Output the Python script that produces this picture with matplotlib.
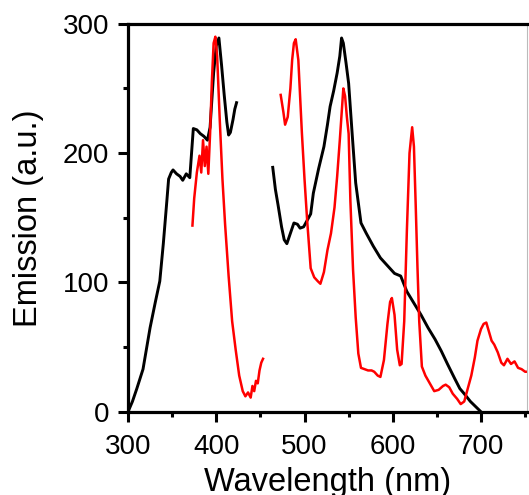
import numpy as np
import matplotlib.pyplot as plt
from matplotlib.ticker import MultipleLocator

plt.rcParams['font.family'] = ['Liberation Sans', 'DejaVu Sans']

# excitation spectrum (black, UV part)
exc1_x = [300, 305, 310, 317, 325, 331, 336, 340, 344, 346, 349, 351, 355, 359, 362, 366, 370,
          372, 374, 378, 382, 386, 390, 393, 397, 400, 403, 406, 409, 412, 414, 416, 419, 421, 423]
exc1_y = [0, 8, 18, 33, 65, 85, 101, 130, 163, 180, 185, 187, 184, 182, 179, 184, 181,
          200, 219, 218, 215, 213, 210, 220, 262, 283, 289, 268, 245, 224, 214, 216, 226, 234, 239]

# emission spectrum (red, blue part)
em1_x = [373, 375, 378, 381, 383, 385, 387, 389, 391, 393, 395, 397, 399, 401, 404, 407, 410,
         414, 418, 422, 426, 430, 433, 436, 439, 441, 443, 445, 447, 449, 451, 453]
em1_y = [144, 165, 185, 198, 185, 210, 190, 205, 184, 215, 255, 285, 290, 275, 225, 180, 145,
         105, 70, 48, 28, 16, 12, 15, 11, 20, 16, 24, 22, 32, 38, 41]

# excitation spectrum (black, visible part)
exc2_x = [464, 467, 470, 474, 477, 480, 484, 488, 492, 495, 499, 503, 507, 510, 516, 522, 526,
          529, 533, 537, 540, 542, 544, 547, 550, 554, 558, 564, 570, 578, 586, 594, 602, 609,
          616, 624, 632, 640, 648, 655, 662, 670, 676, 681, 688, 694, 700]
exc2_y = [189, 172, 160, 143, 133, 130, 138, 146, 145, 142, 143, 148, 153, 169, 188, 205, 222,
          236, 248, 262, 275, 289, 285, 270, 254, 215, 177, 146, 138, 128, 119, 113, 107, 105,
          93, 84, 75, 65, 56, 47, 37, 26, 18, 14, 8, 4, 0]

# emission spectrum (red, visible part)
em2_x = [473, 476, 478, 481, 484, 486, 488, 490, 493, 497, 500, 503, 507, 511, 515, 518, 522,
         526, 530, 534, 537, 540, 542, 544, 546, 548, 550, 552, 555, 558, 561, 564, 568, 572,
         576, 579, 583, 586, 590, 594, 597, 599, 602, 605, 608, 610, 613, 616, 619, 622, 624,
         626, 628, 630, 633, 637, 642, 647, 652, 657, 660, 664, 668, 673, 677, 681, 685, 689,
         693, 696, 700, 703, 706, 709, 712, 715, 719, 723, 726, 730, 734, 738, 742, 746, 750, 755]
em2_y = [245, 232, 222, 228, 250, 272, 285, 288, 272, 216, 180, 148, 111, 104, 101, 99, 108,
         125, 138, 158, 182, 210, 230, 250, 244, 228, 215, 163, 110, 73, 45, 34, 33, 32,
         32, 31, 28, 27, 40, 68, 85, 88, 75, 48, 36, 37, 70, 140, 200, 220, 205,
         160, 112, 70, 35, 28, 22, 16, 17, 20, 21, 19, 14, 10, 6, 8, 18, 28,
         42, 55, 64, 68, 69, 62, 55, 52, 46, 38, 36, 41, 37, 39, 34, 33, 31, 31]

fig = plt.figure(figsize=(5.29, 4.95), dpi=100)
ax = fig.add_axes([0.242, 0.168, 0.754, 0.784])

ax.plot(exc1_x, exc1_y, color='black', lw=2.1)
ax.plot(em1_x, em1_y, color='#ff0000', lw=1.8)
ax.plot(exc2_x, exc2_y, color='black', lw=2.1)
ax.plot(em2_x, em2_y, color='#ff0000', lw=1.8)

ax.set_xlim(300, 752)
ax.set_ylim(0, 300)
ax.xaxis.set_major_locator(MultipleLocator(100))
ax.xaxis.set_minor_locator(MultipleLocator(50))
ax.yaxis.set_major_locator(MultipleLocator(100))
ax.yaxis.set_minor_locator(MultipleLocator(50))

for side in ['left', 'bottom', 'top']:
    ax.spines[side].set_linewidth(2.3)
ax.spines['right'].set_linewidth(0.8)
ax.spines['right'].set_color('#bbbbbb')

ax.tick_params(which='major', direction='out', length=7.2, width=2.2, labelsize=20)
ax.tick_params(which='minor', direction='out', length=3.5, width=2.2)
ax.tick_params(axis='x', which='major', pad=9)
ax.tick_params(axis='y', which='major', pad=6.5)
ax.tick_params(top=False, right=False)

ax.set_xlabel('Wavelength (nm)', fontsize=23.5, labelpad=4.5)
ax.set_ylabel('Emission (a.u.)', fontsize=23.5, labelpad=13)

plt.savefig('out.png', dpi=100)
